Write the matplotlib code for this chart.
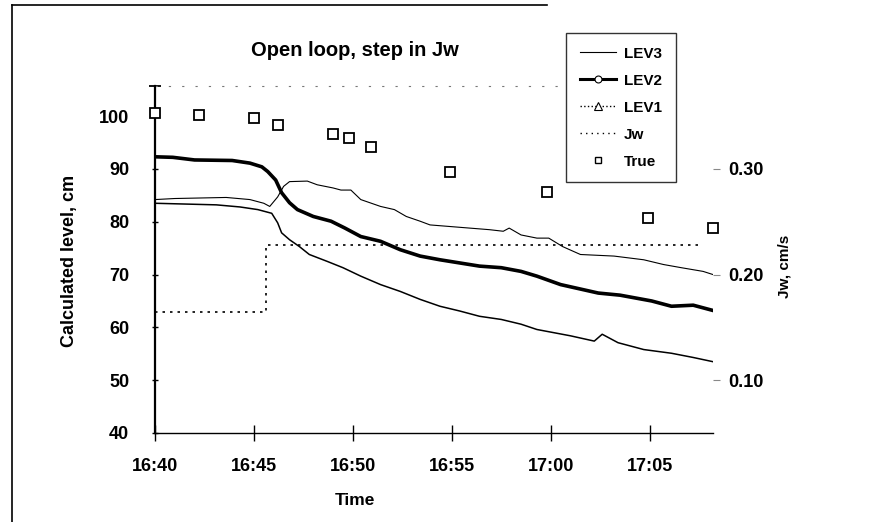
#!/usr/bin/env python3
# -*- coding: utf-8 -*-
"""
Open loop, step in Jw : LEV1/LEV2/LEV3 の推定レベルと真値、Jw (右軸)
"""

import matplotlib
matplotlib.use('Agg')
import matplotlib.pyplot as plt
from matplotlib.lines import Line2D
import numpy as np

plt.rcParams['font.family'] = ['Liberation Sans', 'DejaVu Sans']
plt.rcParams['font.weight'] = 'bold'

# 時間軸は 16:40 からの経過分
tick_min = [0, 5, 10, 15, 20, 25]
tick_labels = ['16:40', '16:45', '16:50', '16:55', '17:00', '17:05']

# LEV3 (細い実線)
lev3_t = [0, 1.0, 3.6, 4.8, 5.5, 5.8, 6.2, 6.5, 6.8, 7.7, 8.2, 9.0, 9.4, 9.9,
          10.4, 11.4, 12.1, 12.7, 13.4, 13.9, 14.9, 15.9, 16.9, 17.6, 17.9,
          18.5, 19.3, 19.9, 20.6, 21.5, 23.2, 24.7, 25.7, 26.6, 27.7, 28.2]
lev3_v = [84.2, 84.4, 84.6, 84.2, 83.5, 82.9, 84.7, 86.7, 87.6, 87.7, 87.0,
          86.4, 86.0, 86.0, 84.2, 82.9, 82.3, 81.0, 80.1, 79.4, 79.1, 78.8,
          78.5, 78.2, 78.8, 77.5, 76.9, 76.9, 75.3, 73.8, 73.5, 72.8, 71.9,
          71.3, 70.6, 70.0]

# LEV2 (太線)
lev2_t = [0, 0.9, 2.0, 3.9, 4.8, 5.4, 5.7, 6.1, 6.4, 6.8, 7.2, 8.0, 8.9, 9.6,
          10.4, 11.4, 12.4, 13.4, 14.4, 15.4, 16.4, 17.5, 18.5, 19.3, 20.5,
          22.4, 23.5, 25.1, 26.1, 27.2, 28.2]
lev2_v = [92.3, 92.2, 91.7, 91.6, 91.1, 90.4, 89.5, 87.9, 85.5, 83.6, 82.3,
          81.0, 80.1, 78.8, 77.2, 76.3, 74.7, 73.5, 72.8, 72.2, 71.6, 71.3,
          70.6, 69.7, 68.1, 66.5, 66.1, 65.0, 64.0, 64.2, 63.2]

# LEV1 (細い線)
lev1_t = [0, 3.1, 4.3, 5.2, 5.9, 6.2, 6.4, 6.8, 7.3, 7.8, 8.7, 9.5, 10.4, 11.4,
          12.4, 13.4, 14.4, 15.4, 16.4, 17.5, 18.5, 19.3, 21.0, 22.2, 22.6,
          23.4, 24.7, 26.1, 27.2, 28.2]
lev1_v = [83.5, 83.2, 82.8, 82.3, 81.6, 79.8, 77.9, 76.6, 75.3, 73.8, 72.5,
          71.3, 69.7, 68.1, 66.8, 65.3, 64.0, 63.1, 62.1, 61.5, 60.6, 59.6,
          58.4, 57.4, 58.7, 57.1, 55.8, 55.1, 54.3, 53.5]

# Jw (右軸, cm/s) のステップ入力
jw_t = [0, 5.6, 27.5]
jw_v = [0.165, 0.228, 0.228]

# 真値
true_t = [0, 2.2, 5.0, 6.2, 9.0, 9.8, 10.9, 14.9, 19.8, 24.9, 28.2]
true_v = [100.6, 100.2, 99.6, 98.3, 96.6, 95.8, 94.2, 89.4, 85.7, 80.8, 78.9]

fig = plt.figure(figsize=(8.82, 5.22), dpi=100)
ax = fig.add_axes([0.1757, 0.1705, 0.6327, 0.6647])
ax2 = ax.twinx()

ax.plot(lev3_t, lev3_v, color='black', linewidth=0.8)
ax.plot(lev2_t, lev2_v, color='black', linewidth=2.6)
ax.plot(lev1_t, lev1_v, color='black', linewidth=1.1)
ax.plot(true_t, true_v, linestyle='none', marker='s', markersize=6.5,
        markerfacecolor='white', markeredgecolor='black', markeredgewidth=1.3,
        clip_on=False, zorder=5)
ax2.plot(jw_t, jw_v, color='black', linestyle=(0, (1.5, 3)), linewidth=1.2,
         drawstyle='steps-post')

# 軸範囲 (左 cm と右 Jw は cm = 30 + 200*Jw で対応)
y_lo, y_hi = 40, 105.7
ax.set_xlim(0, 28.2)
ax.set_ylim(y_lo, y_hi)
ax2.set_ylim((y_lo - 30) / 200, (y_hi - 30) / 200)

ax.set_xticks(tick_min)
ax.set_xticklabels(tick_labels)
ax.set_yticks([40, 50, 60, 70, 80, 90, 100])
ax.set_yticks([y_hi], minor=True)
ax2.set_yticks([0.10, 0.20, 0.30])
ax2.set_yticklabels(['0.10', '0.20', '0.30'])

ax.tick_params(axis='x', direction='inout', length=12, width=1, pad=12,
               labelsize=13)
ax.tick_params(axis='y', which='major', direction='inout', length=5, width=1,
               pad=16, labelsize=13)
ax.tick_params(axis='y', which='minor', direction='inout', length=9, width=1.3)
ax2.tick_params(axis='y', direction='out', length=5, width=0.8, pad=6,
                labelsize=13, color='#888888')

for a in (ax, ax2):
    a.spines['right'].set_visible(False)
    a.spines['top'].set_visible(False)
ax.spines['left'].set_linewidth(1.6)
ax.spines['bottom'].set_linewidth(1.0)
ax2.spines['left'].set_visible(False)
ax2.spines['bottom'].set_visible(False)

# 上端の薄い点線
ax.plot([0, 20.5], [y_hi, y_hi], color='#777777', linestyle=(0, (2, 10)),
        linewidth=0.8, clip_on=False)

fig.text(0.4025, 0.904, 'Open loop, step in Jw', ha='center', va='center',
         fontsize=14.5, fontweight='bold')
fig.text(0.4025, 0.042, 'Time', ha='center', va='center', fontsize=12.5,
         fontweight='bold')
fig.text(0.079, 0.5, 'Calculated level, cm', ha='center', va='center',
         rotation=90, fontsize=13, fontweight='bold')
fig.text(0.89, 0.49, 'Jw, cm/s', ha='center', va='center', rotation=90,
         fontsize=11, fontweight='bold')

# 凡例
handles = [
    Line2D([], [], color='black', linewidth=0.8),
    Line2D([], [], color='black', linewidth=2.2, marker='o', markersize=5,
           markerfacecolor='white', markeredgecolor='black',
           markeredgewidth=0.8),
    Line2D([], [], color='black', linewidth=1.0, linestyle=':', marker='^',
           markersize=6, markerfacecolor='white', markeredgecolor='black',
           markeredgewidth=0.8),
    Line2D([], [], color='black', linewidth=1.0, linestyle=(0, (1, 3))),
    Line2D([], [], linestyle='none', marker='s', markersize=5,
           markerfacecolor='white', markeredgecolor='black'),
]
leg = fig.legend(handles, ['LEV3', 'LEV2', 'LEV1', 'Jw', 'True'],
                 loc='upper left', bbox_to_anchor=(0.6417, 0.9368),
                 borderaxespad=0.0, frameon=True, fancybox=False,
                 handlelength=2.4, handletextpad=0.5, labelspacing=0.85,
                 borderpad=0.9, prop={'weight': 'bold', 'size': 11})
leg.get_frame().set_edgecolor('black')
leg.get_frame().set_linewidth(1.0)

# 外枠 (上辺と左辺)
fig.add_artist(Line2D([0.0136, 0.62], [0.99, 0.99], color='black',
                      linewidth=1.2, transform=fig.transFigure))
fig.add_artist(Line2D([0.0136, 0.0136], [0.0, 0.99], color='black',
                      linewidth=1.2, transform=fig.transFigure))

plt.savefig('out.png', dpi=100)
